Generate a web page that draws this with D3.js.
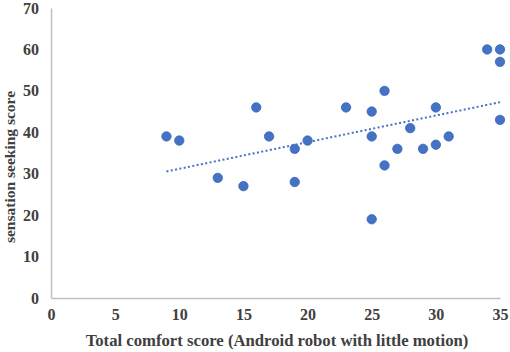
<!DOCTYPE html>
<html>
<head>
<meta charset="utf-8">
<script src="https://cdn.jsdelivr.net/npm/d3@7"></script>
<style>
  body { margin: 0; background: #fff; }
</style>
</head>
<body>
<div id="view"></div>
<script>
// comfort score (x) vs sensation seeking score (y)
var comfort = [9, 10, 13, 15, 16, 17, 19, 19, 20, 23, 25, 25, 25, 26, 26, 27, 28, 29, 30, 30, 31, 34, 35, 35, 35];
var seeking = [39, 38, 29, 27, 46, 39, 36, 28, 38, 46, 45, 39, 19, 50, 32, 36, 41, 36, 46, 37, 39, 60, 60, 57, 43];
var xTicks = [0, 5, 10, 15, 20, 25, 30, 35];
var yTicks = [0, 10, 20, 30, 40, 50, 60, 70];

var SERIF = "'Liberation Serif', 'Times New Roman', Times, serif";
var W = 510, H = 352;
var x = d3.scaleLinear().domain([0, 35]).range([51, 500]);
var y = d3.scaleLinear().domain([0, 70]).range([298, 8]);

var svg = d3.select("#view").append("svg").attr("width", W).attr("height", H);

// axes (no tick marks, grey lines)
var xAxis = svg.append("g").attr("transform", "translate(0," + y(0) + ")")
  .call(d3.axisBottom(x).tickValues(xTicks).tickSize(0).tickPadding(11));
var yAxis = svg.append("g").attr("transform", "translate(" + x(0) + ",0)")
  .call(d3.axisLeft(y).tickValues(yTicks).tickSize(0).tickPadding(12));
[xAxis, yAxis].forEach(function(g) {
  g.attr("font-family", null).attr("font-size", null);
  g.select(".domain").attr("stroke", "#c0c0c0").attr("stroke-width", 1.5);
  g.selectAll("text")
    .style("font-family", SERIF).style("font-weight", "bold")
    .style("font-size", "16px").style("fill", "#404040");
});

// linear trendline (least squares)
var pts = comfort.map(function(c, i) { return [c, seeking[i]]; });
var mx = d3.mean(comfort), my = d3.mean(seeking);
var sxy = d3.sum(pts, function(p) { return (p[0] - mx) * (p[1] - my); });
var sxx = d3.sum(pts, function(p) { return (p[0] - mx) * (p[0] - mx); });
var slope = sxy / sxx, icpt = my - slope * mx;
var x0 = d3.min(comfort), x1 = d3.max(comfort);
svg.append("line")
  .attr("x1", x(x0)).attr("y1", y(icpt + slope * x0))
  .attr("x2", x(x1)).attr("y2", y(icpt + slope * x1))
  .attr("stroke", "#4472c4").attr("stroke-width", 2)
  .attr("stroke-dasharray", "2,2.4");

// points
svg.selectAll("circle.pt").data(pts).enter().append("circle")
  .attr("class", "pt")
  .attr("cx", function(d) { return x(d[0]); })
  .attr("cy", function(d) { return y(d[1]); })
  .attr("r", 4.7)
  .attr("fill", "#4472c4").attr("stroke", "#3a67b8").attr("stroke-width", 0.8);

// axis titles
svg.append("text").attr("x", 277).attr("y", 346).attr("text-anchor", "middle")
  .style("font-family", SERIF).style("font-weight", "bold").style("font-size", "16.7px").style("fill", "#404040")
  .text("Total comfort score (Android robot with little motion)");
svg.append("text").attr("transform", "translate(15,167) rotate(-90)").attr("text-anchor", "middle")
  .style("font-family", SERIF).style("font-weight", "bold").style("font-size", "15.5px").style("fill", "#404040")
  .text("sensation seeking score");
</script>
</body>
</html>
